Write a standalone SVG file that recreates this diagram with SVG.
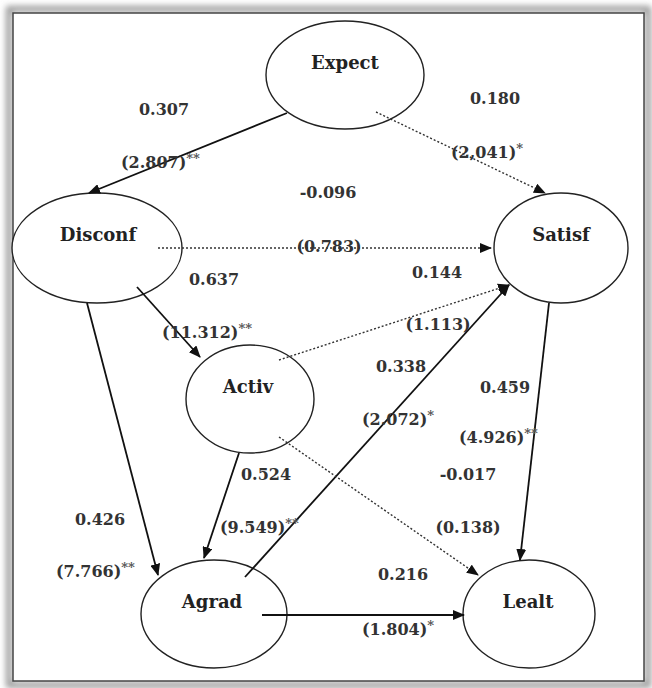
<svg xmlns="http://www.w3.org/2000/svg" width="652" height="688" viewBox="0 0 652 688">
<defs>
<filter id="sh" x="-5%" y="-5%" width="110%" height="110%"><feGaussianBlur stdDeviation="3"/></filter>
<marker id="ah" markerUnits="userSpaceOnUse" markerWidth="12" markerHeight="10" refX="11" refY="5" orient="auto"><path d="M0,0 L12,5 L0,10 z" fill="#111"/></marker>
</defs>
<style>
.node{fill:#fff;stroke:#222;stroke-width:1.4}
.nl{font-family:"DejaVu Serif","Liberation Serif",serif;font-weight:bold;font-size:18px;fill:#222;text-anchor:middle}
.lb{font-family:"DejaVu Serif","Liberation Serif",serif;font-weight:bold;font-size:16px;fill:#333}
.c{text-anchor:middle}
.st{font-size:13px;fill:#555}
.solid{stroke:#111;stroke-width:1.8;fill:none}
.dot{stroke:#333;stroke-width:1.4;stroke-dasharray:2 2;fill:none}
</style>
<rect x="0" y="0" width="652" height="688" fill="#fff"/>
<rect x="9" y="9" width="639" height="676" fill="none" stroke="#999" stroke-width="6" filter="url(#sh)"/>
<rect x="13" y="13" width="631" height="668" fill="#fff" stroke="#444" stroke-width="1.5"/>

<g id="Expect"><ellipse class="node" cx="345" cy="75" rx="79" ry="54"/><text class="nl" x="345" y="69">Expect</text></g>
<g id="Disconf"><ellipse class="node" cx="97" cy="248" rx="85" ry="55"/><text class="nl" x="98" y="241">Disconf</text></g>
<g id="Satisf"><ellipse class="node" cx="561" cy="248" rx="67" ry="55"/><text class="nl" x="561" y="241">Satisf</text></g>
<g id="Activ"><ellipse class="node" cx="250" cy="399" rx="64" ry="54"/><text class="nl" x="248" y="393">Activ</text></g>
<g id="Agrad"><ellipse class="node" cx="214" cy="614" rx="73" ry="54"/><text class="nl" x="212" y="608">Agrad</text></g>
<g id="Lealt"><ellipse class="node" cx="529" cy="614" rx="66" ry="54"/><text class="nl" x="528" y="608">Lealt</text></g>

<g id="connectors">
<line class="solid" x1="287" y1="113" x2="89" y2="193" marker-end="url(#ah)"/>
<line class="dot" x1="376" y1="112" x2="545" y2="193" marker-end="url(#ah)"/>
<line class="dot" x1="158" y1="248" x2="491" y2="248" marker-end="url(#ah)"/>
<line class="solid" x1="137" y1="287" x2="200" y2="357" marker-end="url(#ah)"/>
<line class="dot" x1="279" y1="360" x2="509" y2="285" marker-end="url(#ah)"/>
<line class="solid" x1="245" y1="577" x2="509" y2="285" marker-end="url(#ah)"/>
<line class="solid" x1="549" y1="303" x2="520" y2="560" marker-end="url(#ah)"/>
<line class="solid" x1="87" y1="303" x2="158" y2="575" marker-end="url(#ah)"/>
<line class="solid" x1="239" y1="453" x2="204" y2="558" marker-end="url(#ah)"/>
<line class="dot" x1="279" y1="437" x2="478" y2="575" marker-end="url(#ah)"/>
<line class="solid" x1="262" y1="615" x2="464" y2="615" marker-end="url(#ah)"/>
</g>

<g id="labels">
<text class="lb c" x="164" y="115">0.307</text>
<text class="lb" x="121" y="168">(2.807)<tspan class="st" dy="-5">**</tspan></text>
<text class="lb c" x="495" y="104">0.180</text>
<text class="lb" x="451" y="158">(2,041)<tspan class="st" dy="-5">*</tspan></text>
<text class="lb c" x="328" y="198">-0.096</text>
<text class="lb c" x="329" y="252">(0.783)</text>
<text class="lb c" x="214" y="285">0.637</text>
<text class="lb c" x="437" y="278">0.144</text>
<text class="lb" x="162" y="338">(11.312)<tspan class="st" dy="-5">**</tspan></text>
<text class="lb c" x="438" y="330">(1.113)</text>
<text class="lb c" x="401" y="372">0.338</text>
<text class="lb c" x="505" y="393">0.459</text>
<text class="lb" x="362" y="425">(2.072)<tspan class="st" dy="-5">*</tspan></text>
<text class="lb" x="459" y="443">(4.926)<tspan class="st" dy="-5">**</tspan></text>
<text class="lb c" x="266" y="480">0.524</text>
<text class="lb c" x="468" y="480">-0.017</text>
<text class="lb c" x="100" y="525">0.426</text>
<text class="lb" x="220" y="533">(9.549)<tspan class="st" dy="-5">**</tspan></text>
<text class="lb c" x="468" y="533">(0.138)</text>
<text class="lb" x="56" y="577">(7.766)<tspan class="st" dy="-5">**</tspan></text>
<text class="lb c" x="403" y="580">0.216</text>
<text class="lb" x="362" y="635">(1.804)<tspan class="st" dy="-5">*</tspan></text>
</g>
</svg>
